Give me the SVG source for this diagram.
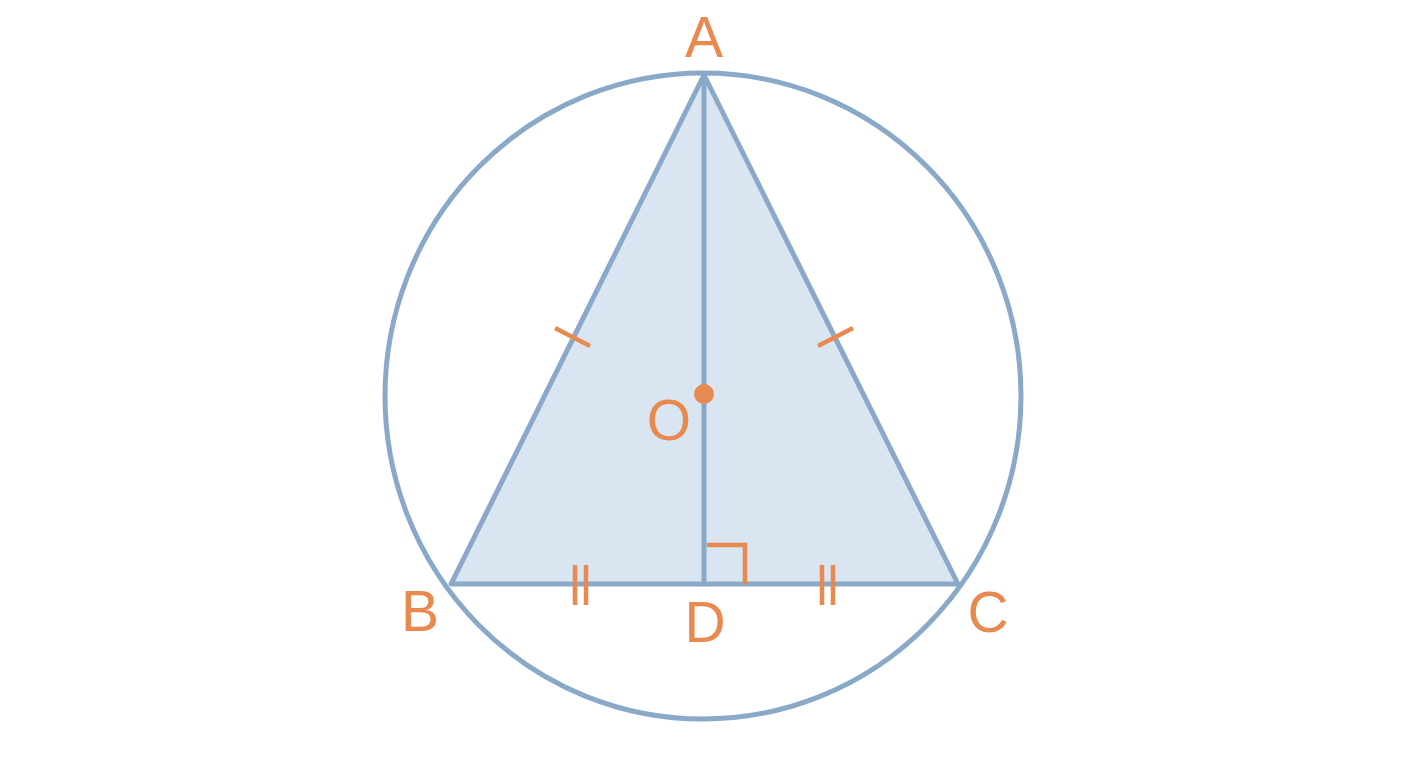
<svg xmlns="http://www.w3.org/2000/svg" width="1408" height="768" viewBox="0 0 1408 768">
<style>
.ln{stroke:#8aa8c8;stroke-width:5;fill:none;stroke-linecap:round;stroke-linejoin:round}
.mk{stroke:#e8894f;stroke-width:4.5;fill:none}
.lb{font-family:"Liberation Sans",Arial,sans-serif;font-size:57px;fill:#e8894f;text-anchor:middle}
</style>
<rect width="1408" height="768" fill="#ffffff"/>
<g id="triangle">
<polygon points="704,75 451,584 958,584" fill="#d9e6f2" stroke="#8aa8c8" stroke-width="5" stroke-linejoin="round"/>
</g>
<g id="circle">
<ellipse cx="703" cy="396" rx="318" ry="323" class="ln"/>
</g>
<g id="connectors">
<line x1="704" y1="75" x2="704" y2="584" class="ln"/>
</g>
<g id="marks">
<line x1="555" y1="328" x2="590" y2="346" class="mk"/>
<line x1="853" y1="328" x2="818" y2="346" class="mk"/>
<line x1="575" y1="565" x2="575" y2="605" class="mk"/>
<line x1="586" y1="565" x2="586" y2="605" class="mk"/>
<line x1="822" y1="565" x2="822" y2="605" class="mk"/>
<line x1="833" y1="565" x2="833" y2="605" class="mk"/>
<polyline points="707,545 745,545 745,584" class="mk"/>
</g>
<g id="O">
<circle cx="704" cy="394" r="10" fill="#e8894f"/>
<text x="669" y="440" class="lb">O</text>
</g>
<g id="A"><text x="704" y="57" class="lb">A</text></g>
<g id="B"><text x="420" y="631" class="lb">B</text></g>
<g id="C"><text x="988" y="632" class="lb">C</text></g>
<g id="D"><text x="705" y="642" class="lb">D</text></g>
</svg>
